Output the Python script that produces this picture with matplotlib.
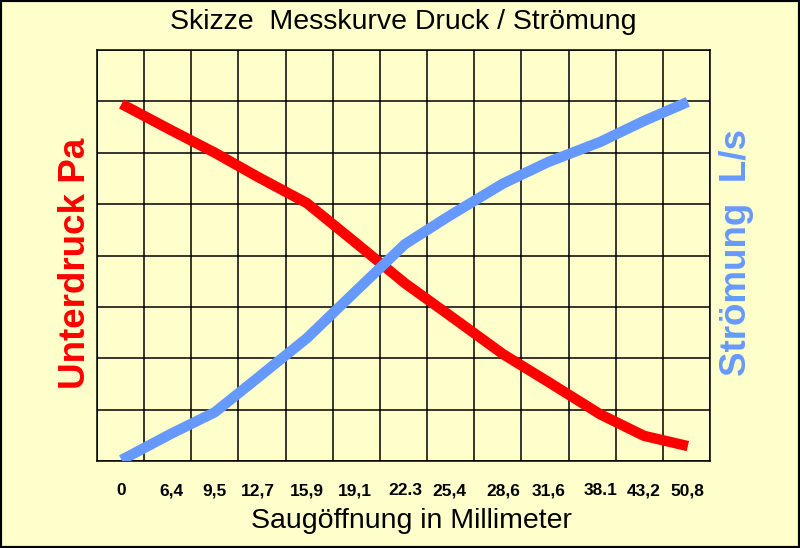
import numpy as np
import matplotlib
matplotlib.use('Agg')
import matplotlib.pyplot as plt
from matplotlib.patches import Rectangle

# Saugöffnung in mm (labels) and where they sit along the grid (column units)
labels = ['0', '6,4', '9,5', '12,7', '15,9', '19,1', '22.3', '25,4',
          '28,6', '31,6', '38.1', '43,2', '50,8']
xpos = [0.52, 1.57, 2.50, 3.41, 4.45, 5.47, 6.53, 7.47, 8.61, 9.57, 10.67, 11.60, 12.53]

# sketch values in grid rows (0..8)
unterdruck = [6.95, 6.44, 6.00, 5.53, 5.02, 4.26, 3.46, 2.84, 2.08, 1.54, 0.91, 0.49, 0.29]
stroemung = [0.02, 0.53, 0.95, 1.62, 2.39, 3.29, 4.22, 4.77, 5.40, 5.82, 6.21, 6.62, 6.99]

n_cols = 13
n_rows = 8

bg = '#FFFFCC'
red = '#FF0000'
blue = '#6699FF'
font = 'Liberation Sans'

fig = plt.figure(figsize=(8, 5.48), dpi=100, facecolor=bg)
ax = fig.add_axes([97 / 800, 87 / 548, 613 / 800, 411 / 548], facecolor=bg)

ax.plot(xpos, unterdruck, color=red, lw=7.5, solid_capstyle='butt', solid_joinstyle='round', zorder=3)
ax.plot(xpos, stroemung, color=blue, lw=7.5, solid_capstyle='butt', solid_joinstyle='round', zorder=3)

ax.set_xlim(0, n_cols)
ax.set_ylim(0, n_rows)
ax.set_xticks(np.arange(n_cols + 1), minor=True)
ax.set_yticks(np.arange(n_rows + 1), minor=True)
ax.set_xticks(xpos)
ax.set_xticklabels(labels, fontfamily=font, fontweight='bold', fontsize=12.5)
ax.set_yticks([])
ax.grid(which='minor', color='black', lw=1.1)
ax.tick_params(which='both', length=0)
ax.tick_params(axis='x', pad=16)
for s in ax.spines.values():
    s.set_linewidth(1.1)

fig.text(0.504, 0.96, 'Skizze  Messkurve Druck / Strömung', ha='center', va='center',
         fontfamily=font, fontsize=20.5)
fig.text(0.514, 0.049, 'Saugöffnung in Millimeter', ha='center', va='center',
         fontfamily=font, fontsize=20.5)
fig.text(0.094, 0.52, 'Unterdruck Pa', ha='center', va='center', rotation=90,
         fontfamily=font, fontweight='bold', fontsize=26.5, color=red)
fig.text(0.921, 0.54, 'Strömung  L/s', ha='center', va='center', rotation=90,
         fontfamily=font, fontweight='bold', fontsize=26.5, color=blue)

fig.patches.append(Rectangle((0, 0), 1, 1, transform=fig.transFigure, fill=False,
                             edgecolor='black', lw=3, zorder=10))

fig.savefig('out.png', dpi=100, facecolor=bg)
